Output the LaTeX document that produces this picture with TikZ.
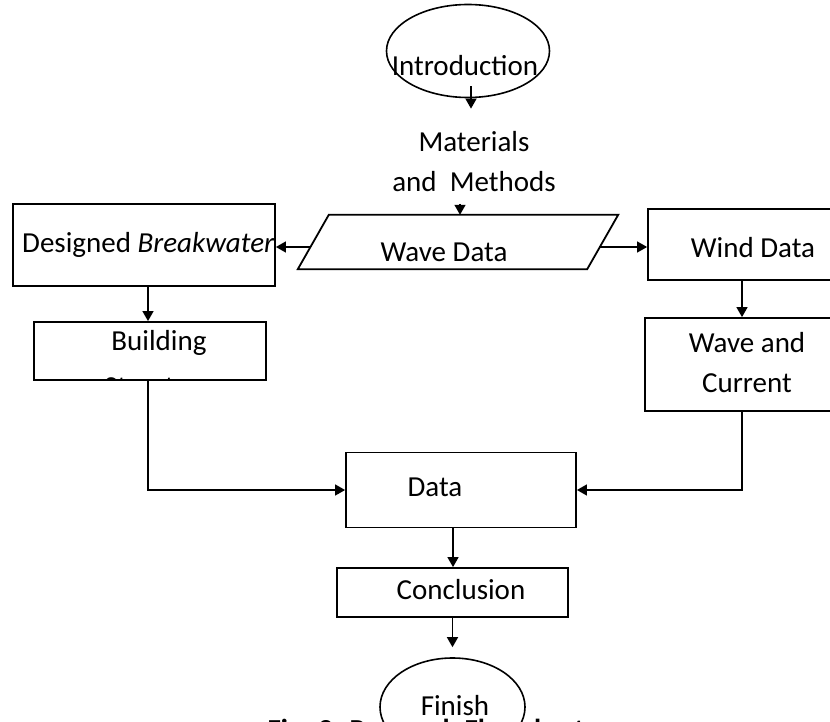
\documentclass[tikz,border=0pt]{standalone}
\usepackage{fontspec}
\setmainfont{Carlito}
\usetikzlibrary{shapes.geometric,arrows.meta,calc}
\tikzset{
  box/.style={draw, rectangle, line width=1.8pt, inner sep=0pt},
  oval/.style={draw, ellipse, line width=1.6pt, inner sep=0pt},
  slant/.style={rectangle, inner sep=0pt},
  lbl/.style={inner sep=0pt, align=center},
  arr/.style={-{Triangle[length=10pt,width=11pt]}, line width=1.4pt}
}
\begin{document}
\begin{tikzpicture}[x=1pt, y=-1pt, font=\fontsize{29}{40}\selectfont]
\useasboundingbox (0,0) rectangle (830,722);
\clip (0,0) rectangle (830,722);

\node [oval, minimum width=163, minimum height=93] (intro) at (468,51) {};
\node [lbl] (introtxt) at (465,66) {Introduction};
\node [lbl] (method) at (474,162) {Materials\\and~~Methods};

\node [slant, minimum width=320, minimum height=54] (wave) at (458,242) {};
\draw [line width=1.8pt] ($(wave.north west)+(31,0)$) -- (wave.north east)
  -- ($(wave.south east)+(-31,0)$) -- (wave.south west) -- cycle;
\node [lbl] (wavetxt) at (444,252) {Wave Data};
\node [box, minimum width=262, minimum height=82] (design) at (144,245) {};
\node [lbl, anchor=west] (designtxt) at (22,245) {Designed \textit{Breakwater}};
\node [box, minimum width=212, minimum height=71] (wind) at (754,244.5) {};
\node [lbl] (windtxt) at (753,248) {Wind Data};

\node [box, minimum width=232, minimum height=58,
  path picture={\node [lbl] at ($(path picture bounding box.center)+(9,13)$) {Building\\[6pt]Structure};}]
  (build) at (150,351) {};
\node [box, minimum width=204, minimum height=93] (current) at (747,364.5) {};
\node [lbl] (currenttxt) at (747,363) {Wave and\\Current};

\node [box, minimum width=230, minimum height=75] (data) at (461,490) {};
\node [lbl] (datatxt) at (435,487) {Data};
\node [box, minimum width=231, minimum height=49] (concl) at (452.5,592.5) {};
\node [lbl] (concltxt) at (461,590) {Conclusion};

\node [lbl, anchor=north] (caption) at (426,719) {\textbf{Fig. 2. Research Flowchart}};
\node [oval, minimum width=145, minimum height=98] (finish) at (452.5,707) {};
\node [lbl] (finishtxt) at (455,706) {Finish};

\coordinate (wl) at ($(wave.west)+(13,5)$);
\coordinate (wr) at ($(wave.east)+(-18,5)$);
\draw [arr, shorten >=11pt] ([shift={(3,-12)}]intro.south) -- ([shift={(3,-12)}]intro.south |- method.north);
\draw [arr] ([shift={(2,-11)}]wave.north) -- ([xshift=2pt]wave.north);
\draw [arr] (wl) -- (wl -| design.east);
\draw [arr] (wr) -- (wr -| wind.west);
\draw [arr] ([xshift=4pt]design.south) -- ([xshift=4pt]design.south |- build.north);
\draw [arr] ([xshift=-12pt]wind.south) -- ([xshift=-12pt]wind.south |- current.north);
\draw [arr] ([xshift=-2pt]build.south) |- (data.west);
\draw [arr] ([xshift=-5pt]current.south) |- (data.east);
\draw [arr] ([xshift=-8pt]data.south) -- ([xshift=-8pt]data.south |- concl.north);
\draw [arr, shorten >=10pt] (concl.south) -- (concl.south |- finish.north);
\end{tikzpicture}
\end{document}
